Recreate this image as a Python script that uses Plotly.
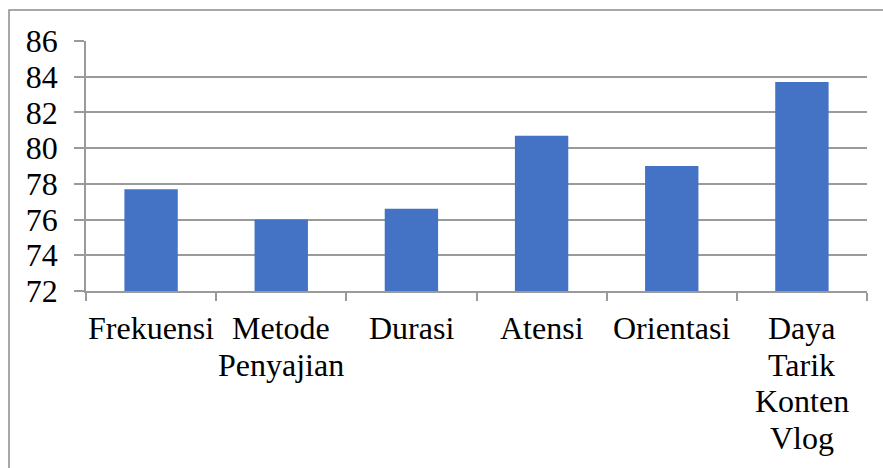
import plotly.graph_objects as go

categories = ["Frekuensi", "Metode Penyajian", "Durasi", "Atensi", "Orientasi",
              "Daya Tarik Konten Vlog"]
label_lines = [["Frekuensi"], ["Metode", "Penyajian"], ["Durasi"], ["Atensi"], ["Orientasi"],
               ["Daya", "Tarik", "Konten", "Vlog"]]
values = [77.7, 76.0, 76.6, 80.7, 79.0, 83.7]
y_ticks = [72, 74, 76, 78, 80, 82, 84, 86]

W, H = 883, 468
L, R, T, B = 86, 16, 40.5, 177
pw, ph = W - L - R, H - T - B

grid = "#9a9a9a"
font = dict(family="Liberation Serif, Times New Roman, serif", size=32, color="black")

fig = go.Figure(go.Bar(x=categories, y=values, marker=dict(color="#4472C4", line=dict(width=0)),
                       width=0.41, hoverinfo="skip"))

fig.update_layout(
    width=W, height=H,
    margin=dict(l=L, r=R, t=T, b=B, pad=0),
    paper_bgcolor="white", plot_bgcolor="white",
    font=font, showlegend=False,
)
fig.update_yaxes(range=[72, 86], tickvals=y_ticks, showgrid=True, gridcolor=grid, gridwidth=1.5,
                 showline=True, linecolor=grid, linewidth=1.5, ticks="outside", ticklen=10,
                 tickcolor=grid, tickwidth=1.5, ticklabelstandoff=10, zeroline=False,
                 automargin=False)
fig.update_xaxes(showline=True, linecolor=grid, linewidth=1.5, ticks="outside", ticklen=8,
                 tickcolor=grid, tickwidth=1.5, tickson="boundaries", showgrid=False,
                 showticklabels=False, automargin=False)

# category labels, one text line per annotation (tighter line spacing than <br>)
line_gap = 36.5
first_center = 328.5  # px from top for first line centre
for cat, lines in zip(categories, label_lines):
    for i, txt in enumerate(lines):
        ypx = first_center + i * line_gap
        fig.add_annotation(x=cat, xref="x", y=(T + ph - ypx) / ph, yref="paper",
                           text=txt, showarrow=False, xanchor="center", yanchor="middle",
                           font=font)

# outer chart frame
fig.add_shape(type="rect", xref="paper", yref="paper",
              x0=(9 - L) / pw, x1=(W + 20 - L) / pw,
              y0=(T + ph - (H + 20)) / ph, y1=(T + ph - 9.5) / ph,
              line=dict(color="#8c8c8c", width=1.5), fillcolor="rgba(0,0,0,0)", layer="below")

fig.write_html("out.html", config={"displayModeBar": False},
               post_script="document.body.style.margin='0';document.body.style.overflow='hidden';")
